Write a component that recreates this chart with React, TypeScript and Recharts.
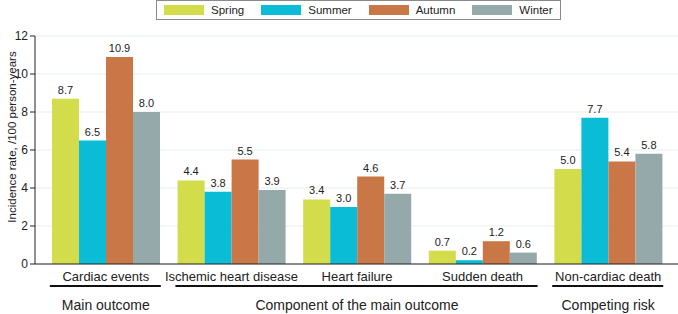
import React from "react";
import {
  BarChart,
  Bar,
  XAxis,
  YAxis,
  CartesianGrid,
  LabelList,
} from "recharts";

const categories = [
  "Cardiac events",
  "Ischemic heart disease",
  "Heart failure",
  "Sudden death",
  "Non-cardiac death",
];
const groups = [
  "Main outcome",
  "Component of the main outcome",
  "Component of the main outcome",
  "Component of the main outcome",
  "Competing risk",
];
const spring = [8.7, 4.4, 3.4, 0.7, 5.0];
const summer = [6.5, 3.8, 3.0, 0.2, 7.7];
const autumn = [10.9, 5.5, 4.6, 1.2, 5.4];
const winter = [8.0, 3.9, 3.7, 0.6, 5.8];
const yTicks = [0, 2, 4, 6, 8, 10, 12];

const series = [
  { key: "spring", name: "Spring", color: "#d3dc4b" },
  { key: "summer", name: "Summer", color: "#0bbcd6" },
  { key: "autumn", name: "Autumn", color: "#ca7748" },
  { key: "winter", name: "Winter", color: "#95a9aa" },
];

const data = categories.map((name, i) => ({
  name,
  spring: spring[i],
  summer: summer[i],
  autumn: autumn[i],
  winter: winter[i],
}));

const FONT = "'Liberation Sans', Arial, Helvetica, sans-serif";

function GroupTick(props: any) {
  const { x, y, payload, index } = props;
  const g = groups[index];
  const first = groups.indexOf(g);
  const last = groups.lastIndexOf(g);
  const x1 = index === first ? x - 56 : x - 63;
  const x2 = index === last ? x + 55 : x + 63;
  const mid = (first + last) / 2 === index;
  return (
    <g>
      <text
        x={x}
        y={y + 17}
        textAnchor="middle"
        fontSize={13}
        fill="#222"
        fontFamily={FONT}
      >
        {payload.value}
      </text>
      <line x1={x1} x2={x2} y1={y + 22} y2={y + 22} stroke="#111" strokeWidth={2} />
      {mid && (
        <text
          x={x}
          y={y + 46}
          textAnchor="middle"
          fontSize={14}
          fill="#222"
          fontFamily={FONT}
        >
          {g}
        </text>
      )}
    </g>
  );
}

function YTitle(props: any) {
  const { viewBox } = props;
  const cy = viewBox.y + viewBox.height / 2 - 13;
  return (
    <text
      x={12}
      y={cy}
      transform={`rotate(-90, 12, ${cy})`}
      textAnchor="middle"
      dominantBaseline="central"
      fontSize={11.5}
      fill="#222"
      fontFamily={FONT}
    >
      Incidence rate, /100 person-years
    </text>
  );
}

export default function App() {
  return (
    <div
      style={{
        position: "absolute",
        left: 0,
        top: 0,
        width: 678,
        height: 314,
        background: "#fff",
        fontFamily: FONT,
      }}
    >
      <div
        style={{
          position: "absolute",
          left: 156,
          top: 0,
          height: 20,
          border: "1px solid #8a8a8a",
          borderTopWidth: 1,
          display: "flex",
          alignItems: "center",
          paddingLeft: 7,
          paddingRight: 7,
          boxSizing: "border-box",
          zIndex: 2,
          background: "#fff",
        }}
      >
        {series.map((s, i) => (
          <div
            key={s.key}
            style={{
              display: "flex",
              alignItems: "center",
              marginLeft: i === 0 ? 0 : 17,
            }}
          >
            <div style={{ width: 40, height: 10, background: s.color }} />
            <span style={{ marginLeft: 7, fontSize: 11.5, color: "#222" }}>
              {s.name}
            </span>
          </div>
        ))}
      </div>
      <BarChart
        width={678}
        height={314}
        data={data}
        margin={{ top: 36, right: 0, left: 0, bottom: 0 }}
        barCategoryGap={9}
        barGap={0}
      >
        <CartesianGrid vertical={false} stroke="#e6edef" />
        <XAxis
          dataKey="name"
          height={50}
          tickLine={false}
          tickSize={0}
          tickMargin={0}
          interval={0}
          padding={{ left: 8, right: 7 }}
          axisLine={{ stroke: "#222" }}
          tick={<GroupTick />}
        />
        <YAxis
          width={35}
          domain={[0, 12]}
          ticks={yTicks}
          interval={0}
          tickSize={5}
          tickMargin={2}
          axisLine={{ stroke: "#222" }}
          tickLine={{ stroke: "#222" }}
          tick={{ fontSize: 12, fill: "#222", fontFamily: FONT }}
          label={<YTitle />}
        />
        {series.map((s) => (
          <Bar
            key={s.key}
            dataKey={s.key}
            name={s.name}
            fill={s.color}
            isAnimationActive={false}
          >
            <LabelList
              dataKey={s.key}
              position="top"
              offset={5}
              formatter={(v: any) => Number(v).toFixed(1)}
              style={{ fontSize: 11, fill: "#222", fontFamily: FONT }}
            />
          </Bar>
        ))}
      </BarChart>
    </div>
  );
}
